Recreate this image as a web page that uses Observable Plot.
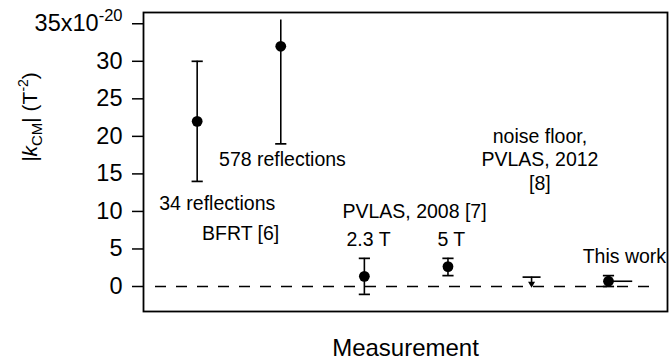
<!DOCTYPE html>
<html><head><meta charset="utf-8">
<script src="https://cdn.jsdelivr.net/npm/d3@7"></script>
<script src="https://cdn.jsdelivr.net/npm/@observablehq/plot@0.6"></script>
<style>body{margin:0;background:#fff;} svg{display:block}</style>
</head><body><div id="chart"></div>
<script>
// measurements (x = measurement index)
const measurement = [1, 2, 3, 4, 5, 5.92];
const names = ["BFRT 34 reflections", "BFRT 578 reflections", "PVLAS 2008 2.3 T", "PVLAS 2008 5 T", "PVLAS 2012 noise floor", "This work"];
const kValue = [22, 32, 1.35, 2.65, null, 0.7];
const kLow   = [14, 19, -1.05, 1.45, 0.1, 0];
const kHigh  = [30, 35.5, 3.75, 3.75, 1.25, 1.45];
const capLow  = [true, true, true, true, false, true];
const capHigh = [true, false, true, true, true, true];
const upperLimit = [false, false, false, false, true, false];
// short horizontal segment next to "This work"
const thisWorkSeg = {x1: 5.98, x2: 6.21, y: 0.7};

const yTicks = [0, 5, 10, 15, 20, 25, 30, 35];

const annotText = ["34 reflections", "578 reflections", "BFRT [6]", "PVLAS, 2008 [7]", "2.3 T", "5 T", "noise floor,", "PVLAS, 2012", "[8]", "This work"];
const annotX = [1.24, 2.02, 1.52, 3.6, 3.05, 4.04, 5.1, 5.1, 5.1, 6.11];
const annotY = [11.0, 16.9, 7.05, 9.95, 6.25, 6.25, 19.95, 16.9, 13.7, 3.9];

const rows = measurement.map((x, i) => ({x, name: names[i], v: kValue[i], lo: kLow[i], hi: kHigh[i], capLo: capLow[i], capHi: capHigh[i], limit: upperLimit[i]}));
const caps = [];
rows.forEach(d => {
  if (d.capHi) caps.push({x: d.x, y: d.hi, wide: d.limit});
  if (d.capLo) caps.push({x: d.x, y: d.lo, wide: d.limit});
});
const annots = annotText.map((t, i) => ({t, x: annotX[i], y: annotY[i]}));

const hLine = {draw(ctx, size) { const w = Math.sqrt(size / Math.PI); ctx.moveTo(-w, 0); ctx.lineTo(w, 0); }};

const FONT = "'Liberation Sans', Arial, Helvetica, sans-serif";
const chart = Plot.plot({
  width: 669, height: 363,
  marginLeft: 143, marginRight: 2, marginTop: 12, marginBottom: 52,
  style: {fontFamily: FONT, fontSize: "23.5px", background: "white", color: "black"},
  x: {domain: [0.358, 6.626], axis: null},
  y: {domain: [-3.33, 36.5], axis: null},
  marks: [
    Plot.axisY({ticks: yTicks, tickSize: 11, tickPadding: 10, label: null, strokeWidth: 1.5,
      tickFormat: d => d === 35 ? "35x10" : String(d)}),
    Plot.ruleY([0], {strokeDasharray: "11,10", insetLeft: 12, insetRight: 10, strokeWidth: 1.5}),
    Plot.ruleX(rows, {x: "x", y1: "lo", y2: "hi", strokeWidth: 1.6}),
    Plot.dot(caps.filter(d => !d.wide), {x: "x", y: "y", symbol: hLine, r: 5.6, fill: "none", stroke: "black", strokeWidth: 1.7}),
    Plot.dot(caps.filter(d => d.wide), {x: "x", y: "y", symbol: hLine, r: 9, fill: "none", stroke: "black", strokeWidth: 1.7}),
    Plot.dot(rows.filter(d => d.limit), {x: "x", y: "lo", symbol: "triangle", rotate: 180, r: 2.6, fill: "black", stroke: null, dy: -2}),
    Plot.dot(rows.filter(d => d.v != null), {x: "x", y: "v", r: 5.4, fill: "black", stroke: null}),
    Plot.ruleY([thisWorkSeg], {x1: "x1", x2: "x2", y: "y", strokeWidth: 1.6}),
    Plot.frame({strokeWidth: 1.8}),
    Plot.text(annots, {x: "x", y: "y", text: "t", fontSize: 19.5, fill: "black"}),
    Plot.text(["Measurement"], {text: d => d, frameAnchor: "bottom", dy: 44, fontSize: 24, fill: "black"}),
    Plot.text(["YLABEL"], {text: d => d, frameAnchor: "left", dx: -113, rotate: -90, fontSize: 21, fill: "black"})
  ]
});
document.getElementById("chart").appendChild(chart);

const svg = d3.select(chart.tagName.toLowerCase() === "svg" ? chart : chart.querySelector("svg"));
svg.selectAll("text").filter(function() { return this.textContent === "35x10"; })
  .append("tspan").attr("font-size", 16.5).attr("dy", "-0.65em").text("-20");
const yl = svg.selectAll("text").filter(function() { return this.textContent === "YLABEL"; });
yl.text(null);
yl.append("tspan").attr("font-style", "italic").text("|k");
yl.append("tspan").attr("font-size", 15).attr("dy", 5).text("CM");
yl.append("tspan").attr("dy", -5).text("| (T");
yl.append("tspan").attr("font-size", 14).attr("dy", -9).text("-2");
yl.append("tspan").attr("dy", 9).text(")");
</script>
</body></html>
